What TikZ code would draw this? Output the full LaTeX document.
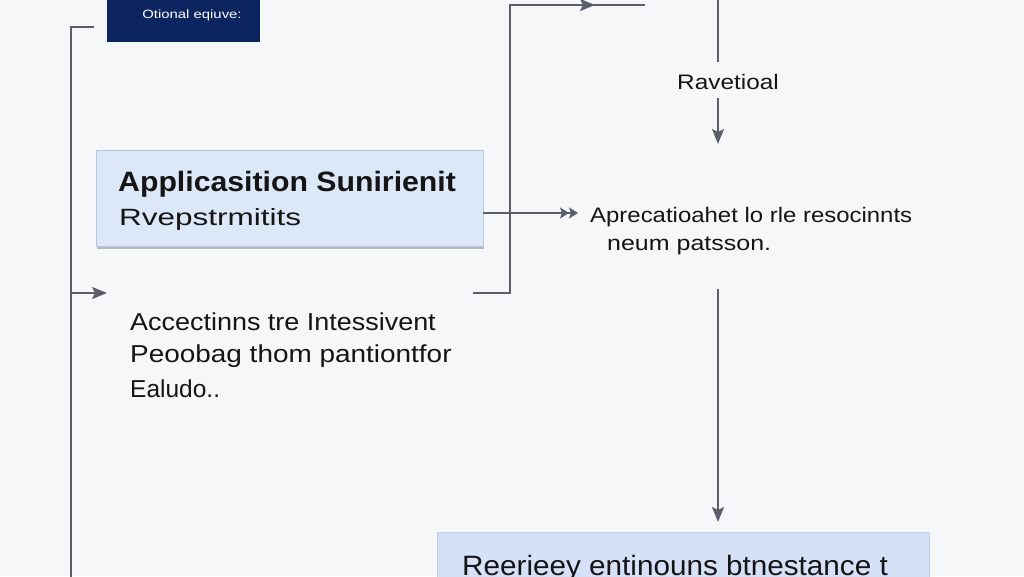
\documentclass[tikz,border=0pt]{standalone}
\usepackage{fontspec}
\setmainfont{Liberation Sans}
\usetikzlibrary{arrows.meta}
\definecolor{bg}{HTML}{F6F7F9}
\definecolor{navy}{HTML}{0C2560}
\definecolor{boxfill}{HTML}{DCE7F8}
\definecolor{boxedge}{HTML}{B4C6E0}
\definecolor{boxfill2}{HTML}{D6E0F6}
\definecolor{linec}{HTML}{5B5F6C}
\definecolor{txt}{HTML}{151515}
\newcommand{\stretchtxt}[2]{\scalebox{#1}[1]{#2}}
\tikzset{
  conn/.style={draw=linec, line width=1.8pt},
  arr/.style={conn, -{Stealth[length=15pt,width=12pt,inset=3pt]}},
  darr/.style={conn, -{Stealth[length=9pt,width=11pt,inset=2pt]Stealth[length=9pt,width=11pt,inset=2pt]}},
  lbl/.style={text=txt, inner sep=0pt, anchor=base west, align=left},
  bluebox/.style={fill=boxfill, draw=boxedge, line width=1pt},
}
\begin{document}
\begin{tikzpicture}[x=1pt,y=-1pt]
\useasboundingbox (0,0) rectangle (1024,576);
\fill[bg] (0,0) rectangle (1024,576);

% navy box at top
\fill[navy] (107,-5) rectangle (260,42);
\node[lbl, text=white, font=\fontsize{12}{14}\selectfont, anchor=base] (opt) at (192,18) {\stretchtxt{1.24}{Otional eqiuve:}};

% left frame line
\coordinate (l0) at (94,27);
\coordinate (l1) at (71,27);
\coordinate (l2) at (71,580);
\coordinate (la) at (71,293);
\coordinate (lb) at (107,293);
\draw[conn] (l0) -- (l1) -- (l2);
\draw[arr] (la) -- (lb);

% blue box 1
\fill[black!28] (97,152) rectangle (484,249);
\node[bluebox, minimum width=387pt, minimum height=96pt, anchor=north west, inner sep=0pt] (box1) at (96,150) {};
\node[lbl, font=\bfseries\fontsize{28}{32}\selectfont] (t1) at (118,191) {\stretchtxt{1.08}{Applicasition Sunirienit}};
\node[lbl, font=\fontsize{23.5}{28}\selectfont] (t2) at (119,225) {\stretchtxt{1.34}{Rvepstrmitits}};

% right bracket lines
\coordinate (m0) at (473,293);
\coordinate (m1) at (510,293);
\coordinate (m2) at (510,5);
\coordinate (m3) at (595,5);
\coordinate (m4) at (645,5);
\draw[conn] (m0) -- (m1) -- (m2) -- (m4);
\draw[arr] (m2) -- (m3);

% box1 -> text
\coordinate (b1r) at (483,213);
\coordinate (b1e) at (578,213);
\draw[darr] (b1r) -- (b1e);

\node[lbl, font=\fontsize{21}{24}\selectfont] (t3) at (590,222) {\stretchtxt{1.14}{Aprecatioahet lo rle resocinnts}};
\node[lbl, font=\fontsize{21}{24}\selectfont] (t4) at (607,250) {\stretchtxt{1.19}{neum patsson.}};

% right vertical
\coordinate (v0) at (718,-2);
\coordinate (v1) at (718,62);
\draw[conn] (v0) -- (v1);
\node[lbl, font=\fontsize{21}{24}\selectfont, anchor=base] (rav) at (728,89) {\stretchtxt{1.16}{Ravetioal}};
\coordinate (v2) at (718,98);
\coordinate (v3) at (718,144);
\draw[arr] (v2) -- (v3);
\coordinate (v4) at (718,289);
\coordinate (v5) at (718,522);
\draw[arr] (v4) -- (v5);

% left text
\node[lbl, font=\fontsize{24.5}{28}\selectfont] (t5) at (130,330) {\stretchtxt{1.10}{Accectinns tre Intessivent}};
\node[lbl, font=\fontsize{24.5}{28}\selectfont] (t6) at (130,362) {\stretchtxt{1.14}{Peoobag thom pantiontfor}};
\node[lbl, font=\fontsize{24.5}{28}\selectfont] (t7) at (130,397) {Ealudo..};

% bottom box
\node[bluebox, fill=boxfill2, draw=boxedge!80, minimum width=492pt, minimum height=60pt, anchor=north west, inner sep=0pt] (box2) at (437,532) {};
\node[lbl, font=\fontsize{28}{30}\selectfont] (t8) at (462,575) {\stretchtxt{1.06}{Reerieey entinouns btnestance t}};
\end{tikzpicture}
\end{document}
